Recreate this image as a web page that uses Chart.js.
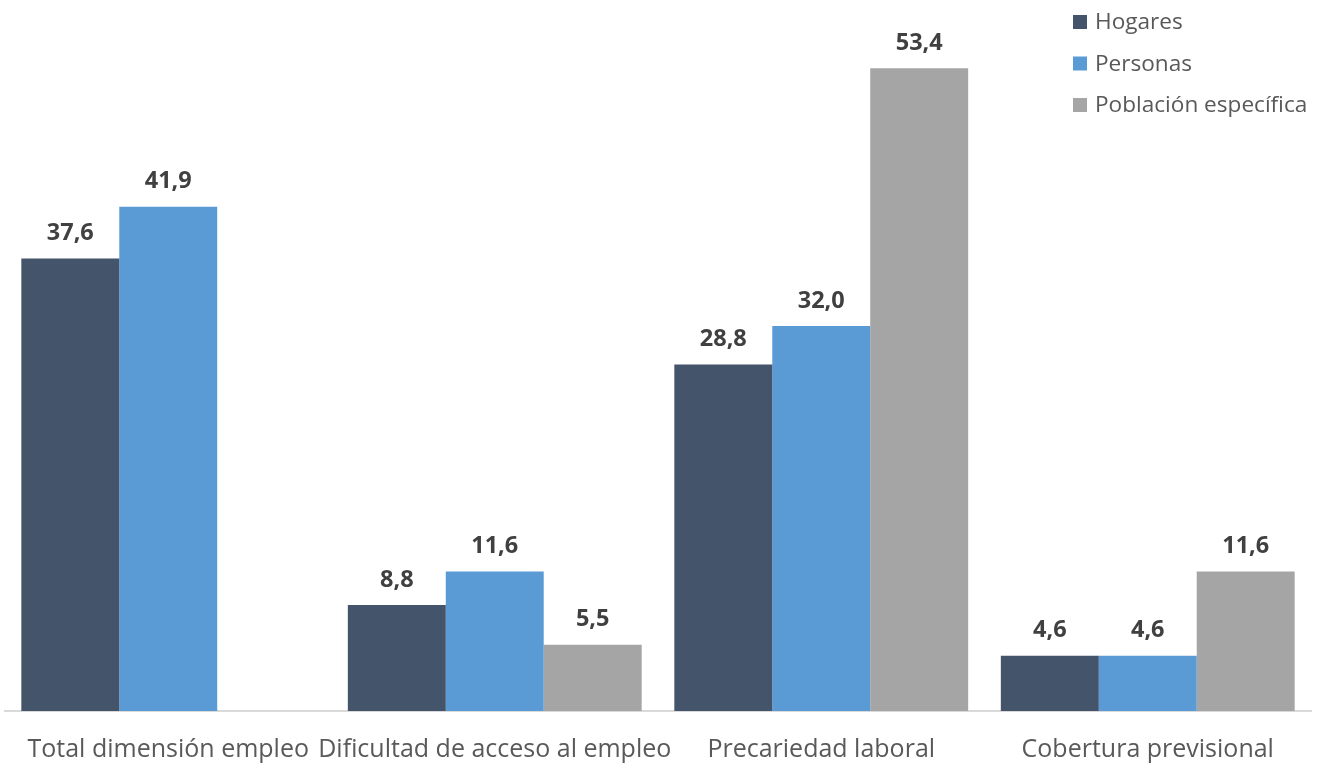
<!DOCTYPE html>
<html lang="es">
<head>
    <meta charset="UTF-8">
    <title>Dimensión empleo</title>
    <script src="https://cdn.jsdelivr.net/npm/chart.js"></script>
    <style>
        html, body { margin: 0; padding: 0; background: #fff; }
        #wrap { width: 1319px; height: 767px; }
    </style>
</head>
<body>
    <div id="wrap"><canvas id="chart"></canvas></div>

    <script>
        // datos
        const categorias = ['Total dimensión empleo', 'Dificultad de acceso al empleo', 'Precariedad laboral', 'Cobertura previsional'];
        const hogares = [37.6, 8.8, 28.8, 4.6];
        const personas = [41.9, 11.6, 32.0, 4.6];
        const poblacion = [null, 5.5, 53.4, 11.6];

        const FONT = '"Open Sans", "Noto Sans", sans-serif';

        // etiquetas sobre las barras
        const valueLabels = {
            id: 'valueLabels',
            afterDatasetsDraw(chart) {
                const ctx = chart.ctx;
                ctx.save();
                ctx.font = 'bold 23.5px ' + FONT;
                ctx.fillStyle = '#404040';
                ctx.textAlign = 'center';
                ctx.textBaseline = 'middle';
                chart.data.datasets.forEach((ds, i) => {
                    chart.getDatasetMeta(i).data.forEach((bar, j) => {
                        const v = ds.data[j];
                        if (v == null) return;
                        ctx.fillText(v.toFixed(1).replace('.', ','), bar.x, bar.y - 25);
                    });
                });
                ctx.restore();
            }
        };

        // leyenda vertical arriba a la derecha
        const cornerLegend = {
            id: 'cornerLegend',
            afterDraw(chart) {
                const ctx = chart.ctx;
                ctx.save();
                ctx.font = '22.6px ' + FONT;
                ctx.textBaseline = 'middle';
                chart.data.datasets.forEach((ds, i) => {
                    const y = 22 + i * 41.5;
                    ctx.fillStyle = ds.backgroundColor;
                    ctx.fillRect(1073, y - 7, 14, 14);
                    ctx.fillStyle = '#595959';
                    ctx.fillText(ds.label, 1095, y + 1);
                });
                ctx.restore();
            }
        };

        new Chart(document.getElementById('chart'), {
            type: 'bar',
            data: {
                labels: categorias,
                datasets: [
                    { label: 'Hogares', data: hogares, backgroundColor: '#44546A' },
                    { label: 'Personas', data: personas, backgroundColor: '#5B9BD5' },
                    { label: 'Población específica', data: poblacion, backgroundColor: '#A5A5A5' }
                ]
            },
            options: {
                responsive: true,
                maintainAspectRatio: false,
                animation: false,
                layout: { padding: { left: 5, right: 8, top: 13, bottom: 0 } },
                datasets: { bar: { categoryPercentage: 0.9, barPercentage: 1.0 } },
                plugins: {
                    legend: { display: false },
                    tooltip: { enabled: false }
                },
                scales: {
                    x: {
                        grid: { display: false, drawTicks: false },
                        border: { color: '#D9D9D9', width: 2 },
                        ticks: {
                            color: '#595959',
                            font: { family: FONT, size: 25 },
                            padding: 24,
                            maxRotation: 0,
                            autoSkip: false
                        },
                        afterFit(scale) { scale.height = 56; }
                    },
                    y: {
                        display: false,
                        min: 0,
                        max: 58
                    }
                }
            },
            plugins: [valueLabels, cornerLegend]
        });
    </script>
</body>
</html>
